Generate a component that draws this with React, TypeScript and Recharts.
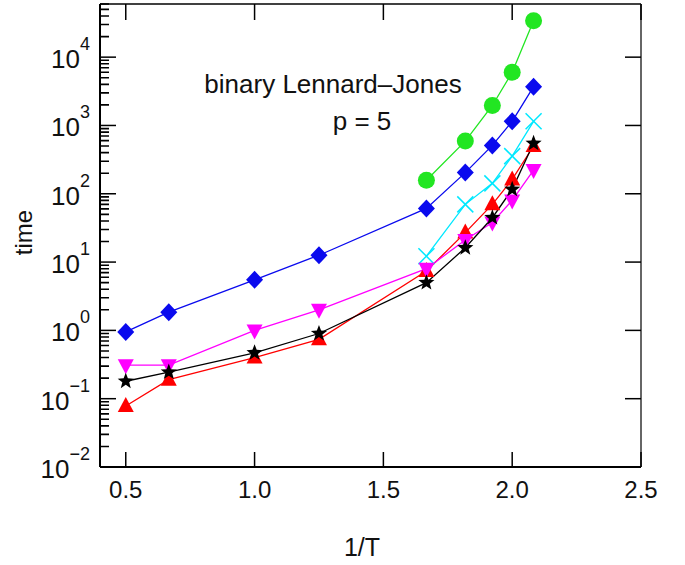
import React from 'react';
import { LineChart, Line, XAxis, YAxis } from 'recharts';

// 1/T values (T = 2.0 ... 0.48)
const invTAll = [0.5, 0.667, 1.0, 1.25, 1.667, 1.818, 1.923, 2.0, 2.083];
const invTLow = [1.667, 1.818, 1.923, 2.0, 2.083];

// relaxation times
const greenCircle = [158, 590, 1960, 6000, 34000];
const blueDiamond = [0.95, 1.85, 5.5, 12.6, 61, 204, 510, 1150, 3700];
const cyanCross = [12.2, 70, 142, 356, 1150];
const redUp = [0.078, 0.19, 0.4, 0.74, 7.4, 27, 70, 162, 500];
const magentaDown = [0.31, 0.31, 1.0, 2.0, 8.0, 21, 38, 80, 222];
const blackStar = [0.18, 0.245, 0.47, 0.9, 5.0, 16.2, 44.6, 116, 548];

const xTicks = [0.5, 1.0, 1.5, 2.0, 2.5];
const decades = [-2, -1, 0, 1, 2, 3, 4];
const minorMult = [2, 3, 4, 5, 6, 7, 8, 9];

const X_MIN = 0.4;
const X_MAX = 2.5;
const Y_MIN = 0.01;
const Y_MAX = 6e4;

const CHART_W = 685;
const CHART_H = 565;
const AXIS_BOTTOM_H = 98;
const AXIS_TOP_H = 4;
const AXIS_LEFT_W = 100;
const PLOT_H = CHART_H - AXIS_BOTTOM_H - AXIS_TOP_H;
const PLOT_BOTTOM = CHART_H - AXIS_BOTTOM_H;

// recharts puts the tick anchor tickSize + tickMargin away from the axis line
const TICK_SIZE = 5;
const TICK_MARGIN = 1;
const OFF = TICK_SIZE + TICK_MARGIN;

const FONT = '"Liberation Sans", Arial, Helvetica, sans-serif';

const toPoints = (xs: number[], ys: number[]) => xs.map((x, i) => ({ x, y: ys[i] }));

const majorY = decades.map((e) => Math.pow(10, e));
const minorY: number[] = [];
decades.forEach((e) => {
  minorMult.forEach((m) => {
    const v = m * Math.pow(10, e);
    if (v <= Y_MAX) minorY.push(v);
  });
});
// log position of a minor tick on the left frame
const pxPerDecade = PLOT_H / Math.log10(Y_MAX / Y_MIN);
const minorPy = (v: number) => PLOT_BOTTOM - Math.log10(v / Y_MIN) * pxPerDecade;

const BottomTick = ({ x, y, payload }: any) => {
  const y0 = y - OFF;
  return (
    <g>
      <line x1={x} x2={x} y1={y0} y2={y0 - 15} stroke="#000" strokeWidth={1.5} />
      <text x={x} y={y0 + 31} textAnchor="middle" fontSize={24} fontFamily={FONT} fill="#111">
        {payload.value.toFixed(1)}
      </text>
    </g>
  );
};

const TopTick = ({ x, y }: any) => {
  const y0 = y + OFF;
  return <line x1={x} x2={x} y1={y0} y2={y0 + 16} stroke="#000" strokeWidth={1.5} />;
};

const LeftTick = ({ x, y, payload }: any) => {
  const x0 = x + OFF;
  const e = Math.round(Math.log10(payload.value));
  return (
    <g>
      <path d={`M${x0},${y}H${x0 + 16}`} stroke="#000" strokeWidth={1.5} fill="none" />
      <text x={x0 - 10} y={y + 11} textAnchor="end" fontFamily={FONT} fill="#111">
        <tspan fontSize={26}>10</tspan>
        <tspan fontSize={18} dy={-18}>{e < 0 ? `\u2212${-e}` : `${e}`}</tspan>
      </text>
    </g>
  );
};

const RightTick = ({ x, y }: any) => {
  const x0 = x - OFF;
  return <path d={`M${x0},${y}H${x0 - 16}`} stroke="#000" strokeWidth={1.5} fill="none" />;
};

const Circle = ({ cx, cy, fill }: any) => <circle cx={cx} cy={cy} r={8.5} fill={fill} />;
const Diamond = ({ cx, cy, fill }: any) => (
  <polygon points={`${cx},${cy - 9} ${cx + 8.5},${cy} ${cx},${cy + 9} ${cx - 8.5},${cy}`} fill={fill} />
);
const UpTri = ({ cx, cy, fill }: any) => (
  <polygon points={`${cx},${cy - 9} ${cx + 8},${cy + 6} ${cx - 8},${cy + 6}`} fill={fill} />
);
const DownTri = ({ cx, cy, fill }: any) => (
  <polygon points={`${cx},${cy + 9} ${cx + 8},${cy - 6} ${cx - 8},${cy - 6}`} fill={fill} />
);
const Cross = ({ cx, cy, stroke }: any) => (
  <g stroke={stroke} strokeWidth={1.5}>
    <line x1={cx - 8} y1={cy - 8} x2={cx + 8} y2={cy + 8} />
    <line x1={cx - 8} y1={cy + 8} x2={cx + 8} y2={cy - 8} />
  </g>
);
const Star = ({ cx, cy, fill }: any) => {
  const pts: string[] = [];
  for (let i = 0; i < 10; i++) {
    const r = i % 2 === 0 ? 8.5 : 3.6;
    const a = -Math.PI / 2 + (i * Math.PI) / 5;
    pts.push(`${cx + r * Math.cos(a)},${cy + r * Math.sin(a)}`);
  }
  return <polygon points={pts.join(' ')} fill={fill} />;
};

const series = [
  { name: 'green', xs: invTLow, ys: greenCircle, color: '#22e622', Shape: Circle },
  { name: 'blue', xs: invTAll, ys: blueDiamond, color: '#0a0aee', Shape: Diamond },
  { name: 'cyan', xs: invTLow, ys: cyanCross, color: '#00e8ff', Shape: Cross },
  { name: 'red', xs: invTAll, ys: redUp, color: '#ff0000', Shape: UpTri },
  { name: 'magenta', xs: invTAll, ys: magentaDown, color: '#ff00ff', Shape: DownTri },
  { name: 'black', xs: invTAll, ys: blackStar, color: '#000000', Shape: Star },
];

export default function App() {
  return (
    <div style={{ position: 'absolute', left: 0, top: 0, width: CHART_W, height: CHART_H, background: '#fff' }}>
      <LineChart width={CHART_W} height={CHART_H} margin={{ top: 0, right: 0, bottom: 0, left: 0 }}>
        <XAxis
          xAxisId="b"
          dataKey="x"
          type="number"
          domain={[X_MIN, X_MAX]}
          ticks={xTicks}
          interval={0}
          height={AXIS_BOTTOM_H}
          tickSize={TICK_SIZE}
          tickMargin={TICK_MARGIN}
          tickLine={false}
          tick={<BottomTick />}
          axisLine={{ stroke: '#000', strokeWidth: 2 }}
          allowDataOverflow
        />
        <XAxis
          xAxisId="t"
          orientation="top"
          dataKey="x"
          type="number"
          domain={[X_MIN, X_MAX]}
          ticks={xTicks}
          interval={0}
          height={AXIS_TOP_H}
          tickSize={TICK_SIZE}
          tickMargin={TICK_MARGIN}
          tickLine={false}
          tick={<TopTick />}
          axisLine={{ stroke: '#000', strokeWidth: 1.5 }}
          allowDataOverflow
        />
        <YAxis
          yAxisId="l"
          scale="log"
          type="number"
          domain={[Y_MIN, Y_MAX]}
          ticks={majorY}
          interval={0}
          width={AXIS_LEFT_W}
          tickSize={TICK_SIZE}
          tickMargin={TICK_MARGIN}
          tickLine={false}
          tick={<LeftTick />}
          axisLine={{ stroke: '#000', strokeWidth: 2 }}
          allowDataOverflow
          label={{ value: 'time', angle: -90, position: 'insideLeft', offset: 0, dx: 23, dy: -3, style: { fontSize: 24, fontFamily: FONT, fill: '#111', textAnchor: 'middle' } }}
        />
        <YAxis
          yAxisId="r"
          orientation="right"
          scale="log"
          type="number"
          domain={[Y_MIN, Y_MAX]}
          ticks={majorY}
          interval={0}
          width={44}
          tickSize={TICK_SIZE}
          tickMargin={TICK_MARGIN}
          tickLine={false}
          tick={<RightTick />}
          axisLine={{ stroke: '#333', strokeWidth: 1.5 }}
          allowDataOverflow
        />
        {series.map((s) => (
          <Line
            key={s.name}
            xAxisId="b"
            yAxisId="l"
            data={toPoints(s.xs, s.ys)}
            dataKey="y"
            stroke={s.color}
            strokeWidth={1.3}
            fill={s.color}
            dot={(p: any) => <s.Shape key={`${s.name}-${p.index}`} cx={p.cx} cy={p.cy} fill={s.color} stroke={s.color} />}
            activeDot={false}
            isAnimationActive={false}
          />
        ))}
      </LineChart>
      <svg width={CHART_W} height={CHART_H} style={{ position: 'absolute', left: 0, top: 0, pointerEvents: 'none' }}>
        <path
          d={minorY.map((v) => `M${AXIS_LEFT_W},${minorPy(v)}H${AXIS_LEFT_W + 9}`).join('')}
          stroke="#000"
          strokeWidth={1.6}
          fill="none"
        />
        <text x={333} y={93} textAnchor="middle" fontSize={26} fontFamily={FONT} fill="#111">
          binary Lennard–Jones
        </text>
        <text x={362} y={130} textAnchor="middle" fontSize={26} fontFamily={FONT} fill="#111">
          p = 5
        </text>
        <text x={362} y={556} textAnchor="middle" fontSize={25} fontFamily={FONT} fill="#111">
          1/T
        </text>
      </svg>
    </div>
  );
}
